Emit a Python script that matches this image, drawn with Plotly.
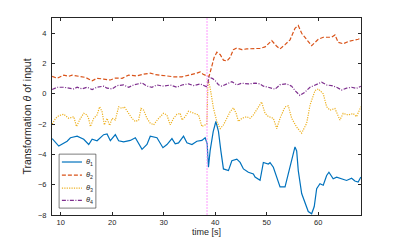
import plotly.graph_objects as go

# theta_1 (blue, solid)
t1 = [8.33, 9.61, 11.24, 11.88, 13.18, 14.46, 15.43, 16.09, 17.05, 18.33, 18.99, 19.63, 20.6, 21.24, 22.21,
      23.51, 24.48, 25.12, 25.78, 26.74, 27.38, 28.68, 29.84, 30.62, 31.59, 32.23, 32.87, 33.84, 34.5, 35.47,
      36.43, 37.4, 38.04, 38.43, 38.68, 39.0, 39.6, 40.12, 40.62, 41.09, 41.59, 42.56, 43.22, 44.19, 44.83,
      45.47, 46.43, 47.4, 47.73, 48.7, 49.34, 50.31, 50.64, 51.28, 51.94, 52.58, 53.55, 54.19, 54.84, 55.48,
      55.81, 56.12, 56.78, 57.42, 58.06, 58.72, 59.22, 59.69, 60.33, 60.97, 61.63, 62.07, 62.9, 63.57, 64.53,
      65.5, 66.47, 67.11, 67.75, 68.27]
v1 = [-2.96, -3.45, -3.13, -2.9, -2.8, -3.0, -3.35, -3.0, -3.1, -2.7, -2.65, -3.1, -2.7, -3.1, -3.17,
      -3.08, -2.9, -3.24, -3.67, -3.35, -2.8, -2.9, -3.56, -3.35, -2.96, -3.3, -3.24, -2.8, -3.24, -3.35,
      -3.13, -3.08, -2.9, -3.3, -4.85, -3.77, -2.5, -1.83, -2.48, -3.77, -4.96, -5.07, -4.42, -4.31, -4.53,
      -4.96, -5.18, -5.29, -5.5, -5.71, -4.53, -4.64, -4.55, -4.85, -5.5, -6.15, -6.15, -5.29, -4.42, -3.51,
      -3.77, -5.07, -6.58, -7.23, -7.77, -7.92, -7.44, -6.26, -5.94, -6.04, -5.39, -5.18, -5.61, -5.5, -5.61,
      -5.72, -5.57, -5.76, -5.82, -5.5]

# theta_2 (orange, dashed)
t2 = [8.33, 9.3, 10.58, 11.55, 12.21, 13.49, 14.79, 16.09, 17.05, 18.33, 19.63, 20.6, 21.9, 23.18, 24.81,
      26.09, 27.38, 28.35, 29.96, 31.9, 33.53, 35.14, 36.43, 37.07, 37.65, 38.37, 38.8, 39.34, 39.78, 40.31,
      40.95, 41.59, 42.25, 42.89, 43.53, 44.19, 45.16, 46.12, 47.4, 48.7, 49.67, 50.4, 50.97, 51.94, 52.58,
      53.55, 54.52, 55.48, 56.12, 56.78, 57.75, 58.72, 60.0, 60.97, 62.6, 63.24, 63.88, 64.85, 65.81, 66.78,
      67.75, 68.27]
v2 = [1.15, 1.02, 1.23, 1.15, 1.23, 1.15, 1.08, 0.86, 1.02, 0.97, 0.91, 1.04, 1.02, 1.23, 1.18,
      1.29, 1.36, 1.27, 1.18, 1.12, 1.12, 1.23, 1.36, 1.44, 1.29, 1.18, 1.15, 1.83, 2.4, 2.74,
      2.59, 2.22, 2.16, 2.4, 2.91, 3.02, 2.91, 2.96, 2.96, 3.0, 3.09, 3.3, 3.51, 3.13, 2.96,
      3.24, 3.56, 4.32, 4.5, 3.99, 3.56, 3.17, 3.6, 3.73, 3.73, 3.88, 3.39, 3.3, 3.45, 3.51,
      3.6, 3.67]

# theta_3 (yellow, dotted)
t3 = [8.33, 9.0, 9.6, 10.58, 11.55, 12.53, 13.05, 13.82, 14.46, 15.11, 15.43, 15.76, 16.41, 17.05, 17.55,
      18.02, 18.47, 18.99, 19.5, 19.96, 20.6, 21.24, 21.9, 22.35, 23.18, 23.83, 24.48, 25.12, 25.59, 26.09,
      26.74, 27.38, 28.03, 29.0, 29.96, 30.6, 31.26, 31.9, 32.55, 33.2, 33.53, 34.17, 34.81, 35.78, 36.75,
      37.4, 38.04, 38.37, 38.6, 39.0, 39.66, 40.3, 40.95, 41.59, 42.25, 42.89, 43.53, 44.05, 44.5, 45.16,
      46.12, 46.76, 47.4, 48.7, 49.0, 49.67, 50.31, 51.28, 51.94, 52.58, 53.55, 54.19, 54.84, 55.81, 56.78,
      57.75, 58.4, 59.37, 60.0, 60.97, 61.63, 62.26, 63.24, 64.2, 64.85, 65.81, 66.78, 67.43, 68.27]
v3 = [-2.0, -1.62, -1.45, -1.35, -1.62, -1.51, -2.16, -1.62, -1.29, -1.4, -1.66, -2.16, -1.62, -1.4, -0.86,
      -1.18, -2.05, -1.62, -2.09, -1.62, -1.73, -0.86, -0.97, -0.86, -1.29, -1.62, -1.83, -1.73, -0.97, -1.08,
      -1.62, -1.94, -2.05, -1.62, -1.29, -1.4, -2.05, -1.62, -1.36, -1.29, -1.73, -1.51, -1.15, -1.29, -1.4,
      -2.16, -2.05, -2.0, 0.97, 0.4, -0.97, -1.83, -2.3, -2.05, -1.62, -1.18, -0.93, -1.29, -1.83, -1.62,
      -1.51, -1.62, -1.4, -0.75, -0.54, -1.29, -1.5, -1.62, -2.3, -1.62, -0.86, -0.8, -1.62, -2.2, -2.6,
      -1.94, -0.75, 0.21, 0.32, 0.0, -0.86, -1.08, -0.97, -1.73, -1.29, -1.4, -1.3, -1.51, -0.86]

# theta_4 (purple, dash-dot)
t4 = [8.33, 9.3, 10.58, 11.55, 12.53, 13.18, 14.14, 15.11, 16.09, 17.05, 18.33, 18.99, 19.96, 20.93, 22.21,
      23.18, 24.15, 25.78, 26.74, 27.71, 28.68, 29.96, 31.26, 32.55, 33.53, 34.81, 35.78, 37.07, 38.0, 38.43,
      38.8, 39.5, 40.0, 40.62, 41.28, 42.25, 43.22, 44.19, 45.16, 46.43, 47.73, 48.7, 49.34, 50.31, 51.6,
      52.58, 53.8, 54.84, 55.48, 56.45, 57.42, 58.4, 59.7, 60.65, 61.63, 62.6, 63.57, 64.53, 65.5, 66.47,
      67.4, 68.27]
v4 = [0.28, 0.43, 0.43, 0.37, 0.32, 0.43, 0.32, 0.43, 0.28, 0.43, 0.5, 0.37, 0.32, 0.54, 0.58,
      0.43, 0.58, 0.71, 0.5, 0.43, 0.58, 0.5, 0.58, 0.43, 0.58, 0.65, 0.54, 0.65, 0.5, 0.45,
      1.1, 1.0, 0.86, 0.6, 0.5, 0.65, 0.8, 0.58, 0.7, 0.65, 0.7, 0.65, 0.5, 0.43, 0.3,
      0.6, 0.65, 0.5, 0.21, -0.11, 0.11, 0.43, 0.65, 0.76, 0.58, 0.54, 0.43, 0.25, 0.37, 0.43,
      0.35, 0.5]

event_time = 38.4
x_ticks = [10, 20, 30, 40, 50, 60]
y_ticks = [-8, -6, -4, -2, 0, 2, 4]
names = ["<i>θ</i><sub>1</sub>", "<i>θ</i><sub>2</sub>", "<i>θ</i><sub>3</sub>", "<i>θ</i><sub>4</sub>"]
x_title = "time [s]"
y_title = "Transformation <i>θ</i> of input"

colors = ["#0072BD", "#D95319", "#EDB120", "#7E2F8E"]
dashes = ["solid", "4px,2px", "1.2px,1.2px", "4px,1.5px,1px,1.5px"]

fig = go.Figure()
for t, v, n, c, d in zip([t1, t2, t3, t4], [v1, v2, v3, v4], names, colors, dashes):
    fig.add_trace(go.Scatter(x=t, y=v, mode="lines", name=n, showlegend=False,
                             line=dict(color=c, width=1.2, dash=d)))

fig.add_vline(x=event_time, line=dict(color="#FF80FF", width=0.8, dash="2px,1px"))

# compact legend box (MATLAB style), built from layout shapes / annotations in paper space
leg_x0, leg_x1, leg_y0, leg_y1 = 0.023, 0.142, 0.035, 0.309
sample_x0, sample_x1, label_x = 0.032, 0.097, 0.102
entry_y = [0.269, 0.2025, 0.136, 0.0746]
fig.add_shape(type="rect", xref="paper", yref="paper", x0=leg_x0, x1=leg_x1, y0=leg_y0, y1=leg_y1,
              line=dict(color="#262626", width=0.6), fillcolor="white", layer="above")
for n, c, d, yy in zip(names, colors, dashes, entry_y):
    fig.add_shape(type="line", xref="paper", yref="paper", x0=sample_x0, x1=sample_x1, y0=yy, y1=yy,
                  line=dict(color=c, width=1.2, dash=d), layer="above")
    fig.add_annotation(xref="paper", yref="paper", x=label_x, y=yy, text=n, showarrow=False,
                       xanchor="left", yanchor="middle", font=dict(size=7.5, color="#262626"))

axis_common = dict(showline=True, linecolor="#262626", linewidth=1, mirror="allticks",
                   ticks="inside", ticklen=3, tickcolor="#262626", showgrid=False, zeroline=False,
                   tickfont=dict(size=7.5, color="#262626"))

fig.update_layout(
    width=399, height=246,
    margin=dict(l=52, r=38, t=18, b=27),
    paper_bgcolor="white", plot_bgcolor="white",
    font=dict(family="Liberation Sans, Arial, sans-serif", size=8, color="#262626"),
    xaxis=dict(range=[8.3, 68.3], tickvals=x_ticks,
               title=dict(text=x_title, standoff=1, font=dict(size=9)), **axis_common),
    yaxis=dict(range=[-8, 5], tickvals=y_ticks, ticklabelstandoff=3,
               title=dict(text=y_title, standoff=4, font=dict(size=10.5)),
               **axis_common),
    showlegend=False,
)

fig.write_html("out.html", config={"displayModeBar": False},
               post_script="document.body.style.margin='0px';")
